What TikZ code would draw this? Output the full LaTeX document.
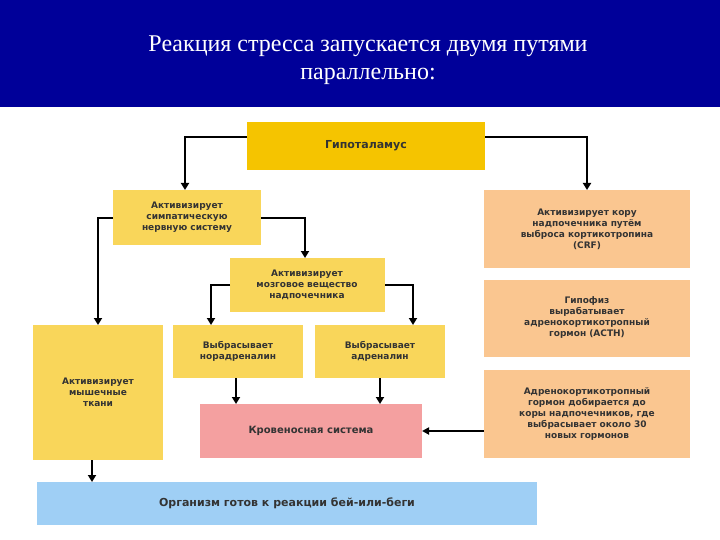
\documentclass[tikz,border=0pt]{standalone}
\usepackage{fontspec}
\setmainfont{Liberation Serif}
\newfontfamily\bodyfont{DejaVu Sans}
\usetikzlibrary{arrows.meta}
\definecolor{navy}{HTML}{000099}
\definecolor{gold}{HTML}{F5C400}
\definecolor{yel}{HTML}{F9D65A}
\definecolor{ora}{HTML}{FAC690}
\definecolor{pinkb}{HTML}{F4A0A0}
\definecolor{blueb}{HTML}{9FCFF5}
\definecolor{txt}{HTML}{333333}
\tikzset{
 bx/.style={inner sep=0pt,align=center,font=\bodyfont\fontsize{9}{11}\selectfont\bfseries,text=txt},
 con/.style={line width=2.6pt,-{Triangle[length=7pt,width=8pt]}},
 thin/.style={line width=1.8pt,-{Triangle[length=7pt,width=7pt]}}
}
\begin{document}
\begin{tikzpicture}[x=1pt,y=-1pt]
\useasboundingbox (0,0) rectangle (720,540);
\fill[white] (0,0) rectangle (720,540);
\fill[navy] (0,0) rectangle (720,107);
\node[text=white,font=\fontsize{24}{28}\selectfont,align=center] (title) at (368,60) {Реакция стресса запускается двумя путями\\параллельно:};
\newcommand\bxx[6]{\fill[#5] (#1,#2) rectangle (#3,#4); \node[bx] (#6) at ({(#1+#3)/2},{(#2+#4)/2}) {};}
\fill[gold] (247,122) rectangle (485,170); \node[bx,font=\bodyfont\fontsize{11}{13}\selectfont\bfseries] (hyp) at (366,146) {Гипоталамус};
\fill[yel] (113,190) rectangle (261,245); \node[bx] (sym) at (187,217) {Активизирует\\симпатическую\\нервную систему};
\fill[ora] (484,190) rectangle (690,268); \node[bx] (crf) at (587,229) {Активизирует кору\\надпочечника путём\\выброса кортикотропина\\(CRF)};
\fill[yel] (230,258) rectangle (385,312); \node[bx] (med) at (307,285) {Активизирует\\мозговое вещество\\надпочечника};
\fill[yel] (33,325) rectangle (163,460); \node[bx] (mus) at (98,392) {Активизирует\\мышечные\\ткани};
\fill[yel] (173,325) rectangle (303,378); \node[bx] (nor) at (238,351) {Выбрасывает\\норадреналин};
\fill[yel] (315,325) rectangle (445,378); \node[bx] (adr) at (380,351) {Выбрасывает\\адреналин};
\fill[ora] (484,280) rectangle (690,357); \node[bx] (pit) at (587,318) {Гипофиз\\вырабатывает\\адренокортикотропный\\гормон (ACTH)};
\fill[ora] (484,370) rectangle (690,458); \node[bx] (acth) at (587,414) {Адренокортикотропный\\гормон добирается до\\коры надпочечников, где\\выбрасывает около 30\\новых гормонов};
\fill[pinkb] (200,404) rectangle (422,458); \node[bx,font=\bodyfont\fontsize{10}{12}\selectfont\bfseries] (blood) at (311,431) {Кровеносная система};
\fill[blueb] (37,482) rectangle (537,525); \node[bx,font=\bodyfont\fontsize{11}{13}\selectfont\bfseries] (fin) at (287,503) {Организм готов к реакции бей-или-беги};
\coordinate (hl) at (247,137); \coordinate (hr) at (485,137);
\draw[con] (hl) -| (185,190);
\draw[con] (hr) -| (587,190);
\draw[con] (113,218) -| (98,325);
\draw[con] (261,218) -| (305,258);
\draw[con] (230,285) -| (211,325);
\draw[con] (385,285) -| (413,325);
\draw[con] (236,378) -- (236,404);
\draw[con] (380,378) -- (380,404);
\draw[thin] (484,431) -- (422,431);
\draw[con] (92,460) -- (92,482);
\end{tikzpicture}
\end{document}
